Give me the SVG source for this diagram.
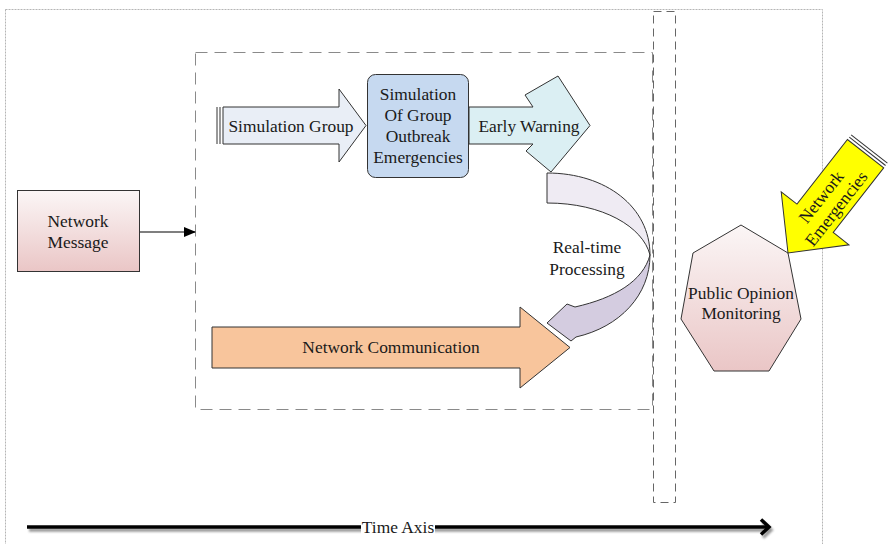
<svg xmlns="http://www.w3.org/2000/svg" width="888" height="544" viewBox="0 0 888 544">
  <style>
    .t { font-family: "Liberation Serif", "Times New Roman", Tinos, "DejaVu Serif", serif; font-size: 17.4px; fill: #1a1a1a; text-anchor: middle; }
    .edge { stroke: #333; stroke-width: 1; }
    .stripe { stroke: #333; stroke-width: 1; }
  </style>
  <defs>
    <linearGradient id="pinkFade" x1="0" y1="0" x2="0" y2="1">
      <stop offset="0" stop-color="#fbf6f6"/>
      <stop offset="1" stop-color="#eac6c6"/>
    </linearGradient>
    <marker id="tri" markerWidth="12" markerHeight="10" refX="11" refY="5" orient="auto" markerUnits="userSpaceOnUse">
      <path d="M0,0 L12,5 L0,10 Z" fill="#000"/>
    </marker>
    <filter id="soft" x="-5%" y="-100%" width="110%" height="300%">
      <feGaussianBlur stdDeviation="1.2"/>
    </filter>
  </defs>

  <rect width="888" height="544" fill="#fff"/>

  <!-- frames -->
  <g id="frames" fill="none">
    <rect x="5.5" y="9.5" width="817" height="600" stroke="#b5b5b5" stroke-dasharray="2,1"/>
    <rect x="195.5" y="52.5" width="457" height="357" stroke="#8a8a8a" stroke-dasharray="12,7"/>
    <rect x="653.5" y="11.5" width="22" height="491" stroke="#666" stroke-dasharray="8,5"/>
  </g>

  <!-- time axis -->
  <g id="time-axis">
    <g filter="url(#soft)" opacity="0.6" transform="translate(2,3)">
      <path d="M27,527 L768,527" stroke="#555" stroke-width="3.5" fill="none"/>
      <path d="M761,519.5 L769,527 L761,534.5" stroke="#555" stroke-width="3.5" fill="none"/>
    </g>
    <path d="M27,527 L768,527" stroke="#000" stroke-width="3.5" fill="none"/>
    <path d="M761,519.5 L769,527 L761,534.5" stroke="#000" stroke-width="3.5" fill="none" stroke-linejoin="miter"/>
    <rect x="361" y="517" width="74" height="20" fill="#fff"/>
    <text class="t" x="398" y="533">Time Axis</text>
  </g>

  <!-- connectors -->
  <g id="connectors">
    <line x1="140" y1="232" x2="195" y2="232" stroke="#000" stroke-width="1.2" marker-end="url(#tri)"/>
  </g>

  <g id="network-message">
    <rect x="17.5" y="190.5" width="122" height="81" fill="url(#pinkFade)" class="edge"/>
    <text class="t" x="78" y="227">Network</text>
    <text class="t" x="78" y="248">Message</text>
  </g>

  <g id="simulation-group">
    <line x1="217" y1="107" x2="217" y2="144" class="stripe"/>
    <line x1="220" y1="107" x2="220" y2="144" class="stripe"/>
    <path d="M223,107 L339,107 L339,89 L366,125.5 L339,162 L339,144 L223,144 Z" fill="#e9eef6" class="edge"/>
    <text class="t" x="291" y="132">Simulation Group</text>
  </g>

  <g id="simulation-outbreak">
    <rect x="367.5" y="74.5" width="101" height="103" rx="8" fill="#c6d9f0" class="edge"/>
    <text class="t" x="418" y="100">Simulation</text>
    <text class="t" x="418" y="121">Of Group</text>
    <text class="t" x="418" y="142">Outbreak</text>
    <text class="t" x="418" y="163">Emergencies</text>
  </g>

  <g id="early-warning">
    <path d="M469,107 L533,107 L525,95 L558,76 L590,125.5 L551,172 L526,151 L533,144 L469,144 Z" fill="#dbeff3" class="edge"/>
    <text class="t" x="529" y="132">Early Warning</text>
  </g>

  <g id="real-time-processing">
    <path d="M547,173 C606,173 650,207 650,255 C643,227 603,203 547,203 Z" fill="#efebf3" class="edge"/>
    <path d="M650,255 C650,295 620,327 576,337 L571,341 L547,323 L567,304 L575,307 C615,298 643,281 650,255 Z" fill="#d4cce0" class="edge"/>
    <text class="t" x="587" y="253">Real-time</text>
    <text class="t" x="587" y="275">Processing</text>
  </g>

  <g id="network-communication">
    <path d="M212,327 L520,327 L520,307 L570,347.5 L520,388 L520,368 L212,368 Z" fill="#f8c59c" class="edge"/>
    <text class="t" x="391" y="353">Network Communication</text>
  </g>

  <g id="public-opinion">
    <path d="M741,225 L788,253 L801,319 L769,371 L714,371 L681,319 L693,253 Z" fill="url(#pinkFade)" class="edge"/>
    <text class="t" x="741" y="299">Public Opinion</text>
    <text class="t" x="741" y="319">Monitoring</text>
  </g>

  <g id="network-emergencies">
    <g transform="translate(788,253) rotate(128)">
      <line x1="-132" y1="-23" x2="-132" y2="23" class="stripe"/>
      <line x1="-129" y1="-23" x2="-129" y2="23" class="stripe"/>
      <path d="M-126,-23 L-44,-23 L-44,-43 L0,0 L-44,43 L-44,23 L-126,23 Z" fill="#ffff00" class="edge"/>
    </g>
    <g transform="translate(829,203) rotate(-52)">
      <text class="t" x="0" y="-4">Network</text>
      <text class="t" x="0" y="15">Emergencies</text>
    </g>
  </g>
</svg>
